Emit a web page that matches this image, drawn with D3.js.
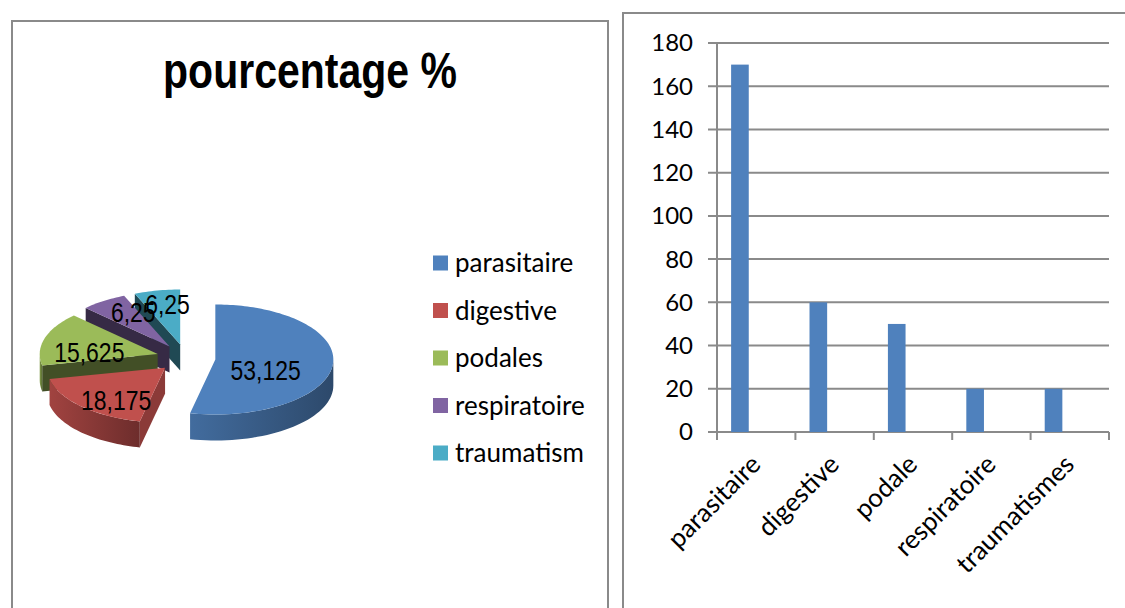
<!DOCTYPE html>
<html>
<head>
<meta charset="utf-8">
<script src="https://cdn.jsdelivr.net/npm/d3@7"></script>
<style>
	body { margin: 0; background: #fff; }
</style>
</head>
<body>
<svg id="chart" width="1125" height="608"></svg>
<script>

// pie chart data (pourcentage %)
var pieTitle = "pourcentage %";
var pieCategories = ["parasitaire", "digestive", "podales", "respiratoire", "traumatism"];
var pieValues = [53.125, 18.175, 15.625, 6.25, 6.25];
var pieColors = ["#4F81BD", "#C0504D", "#9BBB59", "#8064A2", "#4BACC6"];

// bar chart data
var barCategories = ["parasitaire", "digestive", "podale", "respiratoire", "traumatismes"];
var barValues = [170, 60, 50, 20, 20];
var barTicks = [0, 20, 40, 60, 80, 100, 120, 140, 160, 180];



var svg = d3.select("#chart");
var defs = svg.append("defs");
var gridColor = "#8a8a8a";
var narrowFont = "'Liberation Sans', Arial, sans-serif";
var bodyFont = "Lato, 'Open Sans', sans-serif";

// frames round the two charts
svg.append("rect")
	.attr("x", 12).attr("y", 21).attr("width", 596).attr("height", 620)
	.attr("fill", "none").attr("stroke", gridColor).attr("stroke-width", 2);
svg.append("rect")
	.attr("x", 623).attr("y", 13).attr("width", 520).attr("height", 620)
	.attr("fill", "none").attr("stroke", gridColor).attr("stroke-width", 2);



// ---------- 3D exploded pie ----------
var pieG = svg.append("g");

// no narrow font installed: squeeze the text horizontally instead
pieG.append("text")
	.attr("transform", "translate(310,88) scale(0.82,1)")
	.attr("text-anchor", "middle")
	.style("font-family", narrowFont)
	.style("font-weight", "bold")
	.style("font-size", "50px")
	.text(pieTitle);

var cx = 186, cy = 358, rx = 118, ry = 55, depth = 26, explode = 0.25;
var pie = d3.pie().sort(null).value(function (d) { return d; });
var arcs = pie(pieValues);

// point on the ellipse, angle 0 at the top, clockwise
function rim(ox, oy, a, dy) {
	return [ox + rx * Math.sin(a), oy - ry * Math.cos(a) + (dy || 0)];
}

var line = d3.line();

arcs.forEach(function (d, i) {
	d.mid = (d.startAngle + d.endAngle) / 2;
	d.ox = cx + explode * rx * Math.sin(d.mid);
	d.oy = cy - explode * ry * Math.cos(d.mid);
	d.color = pieColors[i];
	var n = Math.max(8, Math.round((d.endAngle - d.startAngle) * 40));
	d.face = [[d.ox, d.oy]].concat(d3.range(0, n + 1).map(function (k) {
		return rim(d.ox, d.oy, d.startAngle + (d.endAngle - d.startAngle) * k / n);
	}));
	var g = defs.append("linearGradient")
		.attr("id", "wall" + i)
		.attr("x1", 0).attr("x2", 1).attr("y1", 0).attr("y2", 0);
	g.append("stop").attr("offset", "0%").attr("stop-color", d3.color(d.color).darker(0.5));
	g.append("stop").attr("offset", "100%").attr("stop-color", d3.color(d.color).darker(1.6));
});

// back to front
var order = arcs.slice().sort(function (a, b) { return a.oy - b.oy; });

order.forEach(function (d) {
	var i = d.index;
	var g = pieG.append("g");
	var a0 = d.startAngle, a1 = d.endAngle;

	// radial cut faces
	[[a0, Math.sin(a0) < -1e-6], [a1, Math.sin(a1) > 1e-6]].forEach(function (f) {
		if (!f[1]) return;
		var p = rim(d.ox, d.oy, f[0]);
		var pts = [[d.ox, d.oy], p, [p[0], p[1] + depth], [d.ox, d.oy + depth]];
		g.append("path")
			.attr("d", line(pts) + "Z")
			.attr("fill", d3.color(d.color).darker(i === 1 ? 0.9 : 2.4));
	});

	// outer wall (front half only)
	var w0 = Math.max(a0, Math.PI / 2), w1 = Math.min(a1, 3 * Math.PI / 2);
	if (w1 > w0) {
		var top = d3.range(0, 41).map(function (k) { return rim(d.ox, d.oy, w0 + (w1 - w0) * k / 40); });
		var bottom = top.slice().reverse().map(function (p) { return [p[0], p[1] + depth]; });
		g.append("path")
			.attr("d", line(top.concat(bottom)) + "Z")
			.attr("fill", "url(#wall" + i + ")");
	}

	// top face
	g.append("path")
		.attr("d", line(d.face) + "Z")
		.attr("fill", d.color);
});

// data labels: centroid of the top face for the big slices, further out for the thin ones
function labelPos(d) {
	if (d.value < 10)
		return [d.ox + 0.55 * rx * Math.sin(d.mid), d.oy - 0.75 * ry * Math.cos(d.mid)];
	var c = d3.polygonCentroid(d.face);
	return [c[0] + 4, c[1] + 8];
}
pieG.selectAll(".pie-label")
	.data(arcs)
	.enter().append("text")
	.attr("class", "pie-label")
	.attr("transform", function (d) {
		var p = labelPos(d);
		return "translate(" + p[0] + "," + p[1] + ") scale(0.82,1)";
	})
	.attr("dy", "0.35em")
	.attr("text-anchor", "middle")
	.style("font-family", narrowFont)
	.style("font-size", "28px")
	.text(function (d) { return String(d.value).replace(".", ","); });

// legend
var legend = pieG.selectAll(".legend")
	.data(pieCategories)
	.enter().append("g")
	.attr("class", "legend")
	.attr("transform", function (d, i) { return "translate(433," + (263 + i * 47.5) + ")"; });
legend.append("rect")
	.attr("x", 0).attr("y", -7.5).attr("width", 15).attr("height", 15)
	.attr("fill", function (d, i) { return pieColors[i]; });
legend.append("text")
	.attr("x", 22).attr("dy", "0.35em")
	.style("font-family", bodyFont)
	.style("font-size", "26px")
	.text(function (d) { return d; });



// ---------- bar chart ----------
var x = d3.scaleBand().domain(barCategories).range([717, 1109]);
var y = d3.scaleLinear().domain([0, 180]).range([432, 43]);
var barG = svg.append("g");

// gridlines and value axis
barG.selectAll(".grid")
	.data(barTicks)
	.enter().append("line")
	.attr("x1", 708).attr("x2", 1109)
	.attr("y1", function (d) { return y(d); })
	.attr("y2", function (d) { return y(d); })
	.attr("stroke", gridColor).attr("stroke-width", 2);
barG.append("line")
	.attr("x1", 717).attr("x2", 717).attr("y1", y(180)).attr("y2", y(0))
	.attr("stroke", gridColor).attr("stroke-width", 2);
barG.selectAll(".ytick")
	.data(barTicks)
	.enter().append("text")
	.attr("x", 693)
	.attr("y", function (d) { return y(d); })
	.attr("dy", "0.35em")
	.attr("text-anchor", "end")
	.style("font-family", bodyFont)
	.style("font-size", "24px")
	.text(function (d) { return d; });

// category tick marks
var bounds = barCategories.map(function (c) { return x(c); }).concat([x.range()[1]]);
barG.selectAll(".xtick")
	.data(bounds)
	.enter().append("line")
	.attr("x1", function (d) { return d; }).attr("x2", function (d) { return d; })
	.attr("y1", y(0)).attr("y2", y(0) + 8)
	.attr("stroke", gridColor).attr("stroke-width", 2);

// bars
barG.selectAll(".bar")
	.data(barValues)
	.enter().append("rect")
	.attr("x", function (d, i) { return x(barCategories[i]) + x.bandwidth() * 0.18; })
	.attr("width", x.bandwidth() * 0.225)
	.attr("y", function (d) { return y(d); })
	.attr("height", function (d) { return y(0) - y(d); })
	.attr("fill", "#4F81BD");

// rotated category labels
barG.selectAll(".xlabel")
	.data(barCategories)
	.enter().append("text")
	.attr("transform", function (d) {
		return "translate(" + (x(d) + x.bandwidth() / 2 + 6) + "," + 466 + ") rotate(-45)";
	})
	.attr("text-anchor", "end")
	.style("font-family", bodyFont)
	.style("font-size", "26px")
	.text(function (d) { return d; });

</script>
</body>
</html>
